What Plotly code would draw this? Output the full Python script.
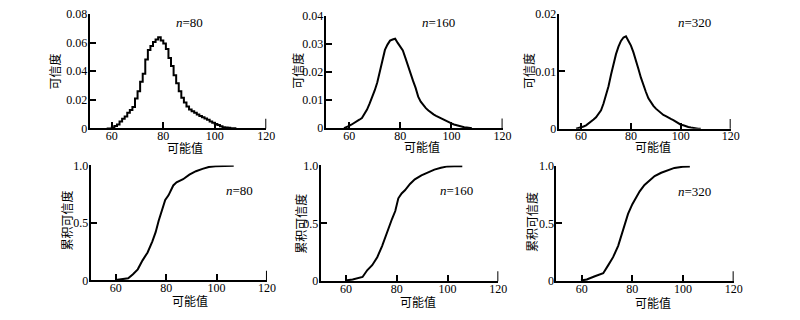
import plotly.graph_objects as go

# ---------------- data ----------------
hist_x = list(range(58, 109))  # possible values 58..108

cred_80 = [0, 0, 0.0007, 0.0017, 0.0027, 0.0049, 0.0067, 0.0084, 0.0109, 0.0129,
           0.0149, 0.0209, 0.026, 0.0327, 0.0382, 0.0482, 0.0549, 0.0577, 0.0604, 0.0622,
           0.0637, 0.0615, 0.0593, 0.0555, 0.0493, 0.0437, 0.0371, 0.0315, 0.026, 0.0215,
           0.0182, 0.0153, 0.0133, 0.012, 0.0109, 0.0097, 0.0087, 0.0078, 0.0069, 0.006,
           0.0049, 0.004, 0.0031, 0.0024, 0.0015, 0.0009, 0.0007, 0.0004, 0.0002, 0.0002, 0]

cred_160 = [0, 0.0003, 0.0008, 0.0013, 0.0018, 0.0024, 0.003, 0.0036, 0.0049, 0.0066,
            0.0087, 0.0108, 0.0134, 0.0162, 0.0202, 0.0245, 0.0278, 0.0297, 0.0311, 0.0315,
            0.0318, 0.0303, 0.0289, 0.0276, 0.0250, 0.0221, 0.0194, 0.0168, 0.0143, 0.0112,
            0.0094, 0.0081, 0.0071, 0.0063, 0.0055, 0.0049, 0.0044, 0.0039, 0.0035, 0.0031,
            0.0026, 0.0021, 0.0017, 0.0013, 0.001, 0.0007, 0.0005, 0.0003, 0.0002, 0.0001, 0]

cred_320 = [0, 0.0001, 0.0002, 0.0004, 0.0006, 0.0009, 0.0012, 0.0016, 0.002, 0.0026,
            0.0032, 0.0044, 0.0058, 0.0074, 0.0094, 0.0113, 0.013, 0.0143, 0.0153, 0.0159,
            0.0161, 0.0153, 0.0145, 0.0133, 0.012, 0.0104, 0.0089, 0.0075, 0.0064, 0.0053,
            0.0046, 0.004, 0.0035, 0.0031, 0.0027, 0.0024, 0.0022, 0.0019, 0.0017, 0.0015,
            0.0012, 0.0009, 0.0007, 0.0006, 0.0004, 0.0003, 0.0002, 0.0001, 0.0001, 0, 0]

cdf80_x = [60, 63.8, 64.9, 66.8, 68.7, 70.6, 72.6, 74.5, 75.8, 77, 78.3, 79.6, 80.9,
           82.8, 84.1, 86.7, 89.2, 91.8, 94.4, 96.9, 99.5, 102.1, 106.8]
cdf80_y = [0.005, 0.017, 0.02, 0.055, 0.097, 0.175, 0.244, 0.34, 0.42, 0.52, 0.62, 0.70, 0.74,
           0.826, 0.853, 0.88, 0.92, 0.95, 0.97, 0.986, 0.994, 0.997, 0.997]

cdf160_x = [59.7, 62.6, 66.5, 68.4, 70.3, 72.3, 74.2, 75.5, 76.8, 78.1, 79.4, 80.6, 81.9,
            83.2, 85.2, 87.1, 89.7, 92.3, 94.8, 97.4, 100, 102.6, 105.8]
cdf160_y = [0.005, 0.014, 0.036, 0.096, 0.138, 0.207, 0.303, 0.386, 0.468, 0.537, 0.606, 0.716,
            0.758, 0.785, 0.84, 0.88, 0.915, 0.942, 0.964, 0.98, 0.992, 0.994, 0.994]

cdf320_x = [59.7, 62, 65.2, 68.5, 70.5, 72.4, 74.4, 75.7, 77, 78.3, 80, 81.6, 82.9, 84.8,
            86.8, 88.8, 91.4, 94, 96.6, 99.9, 102.7]
cdf320_y = [0.005, 0.014, 0.042, 0.069, 0.139, 0.208, 0.306, 0.403, 0.5, 0.583, 0.667, 0.736,
            0.778, 0.833, 0.875, 0.911, 0.939, 0.961, 0.981, 0.992, 0.994]

x_ticks = [60, 80, 100, 120]
top_yticks = [[0, 0.02, 0.04, 0.06, 0.08], [0, 0.01, 0.02, 0.03, 0.04], [0, 0.01, 0.02]]
top_yticktext = [["0", "0.02", "0.04", "0.06", "0.08"], ["0", "0.01", "0.02", "0.03", "0.04"],
                 ["0", "0.01", "0.02"]]
top_yrange = [0.08, 0.04, 0.02]
bot_yticks = [0, 0.5, 1.0]
bot_yticktext = ["0", "0.5", "1.0"]
n_labels = ["80", "160", "320"]
xlabel = "可能值"
ylabel_top = "可信度"
ylabel_bot = "累积可信度"

# ---------------- layout geometry (pixels) ----------------
W, H = 800, 320
top_boxes = [(90.7, 269.3, 7.3, 127.0), (329.3, 508.3, 9.0, 126.7), (565.0, 739.0, 7.3, 127.3)]
bot_boxes = [(91.7, 270.0, 165.7, 286.0), (324.3, 504.0, 165.7, 286.7), (562.7, 742.0, 166.0, 286.7)]
top_xmin = [51.4, 50.8, 51.0]
bot_xmin = [50, 50, 50]

SERIF = "Liberation Serif, Times New Roman, serif"
CJK = "Noto Sans CJK SC"

fig = go.Figure()
line = dict(color="black", width=2)

top_series = [cred_80, cred_160, cred_320]
for i in range(3):
    fig.add_trace(go.Scatter(x=hist_x, y=top_series[i], mode="lines",
                             line=dict(color="black", width=2,
                                       shape="hv" if i == 0 else "linear"),
                             xaxis=f"x{i+1}" if i else "x", yaxis=f"y{i+1}" if i else "y",
                             showlegend=False, hoverinfo="skip"))

cdfs = [(cdf80_x, cdf80_y), (cdf160_x, cdf160_y), (cdf320_x, cdf320_y)]
for i in range(3):
    fig.add_trace(go.Scatter(x=cdfs[i][0], y=cdfs[i][1], mode="lines", line=line,
                             xaxis=f"x{i+4}", yaxis=f"y{i+4}",
                             showlegend=False, hoverinfo="skip"))

axes = {}
annotations = []
shapes = []


def ax_common():
    return dict(showline=True, linecolor="black", linewidth=2, ticks="inside", ticklen=6,
                tickwidth=1.5, tickcolor="black", showgrid=False, zeroline=False,
                tickfont=dict(family=SERIF, size=12, color="black"), fixedrange=True)


for i in range(6):
    top = i < 3
    j = i % 3
    box = top_boxes[j] if top else bot_boxes[j]
    x0, x1, yt, yb = box
    xname = "xaxis" if i == 0 else f"xaxis{i+1}"
    yname = "yaxis" if i == 0 else f"yaxis{i+1}"
    xid = "x" if i == 0 else f"x{i+1}"
    yid = "y" if i == 0 else f"y{i+1}"
    xa = ax_common()
    xa.update(domain=[x0 / W, x1 / W], range=[top_xmin[j] if top else bot_xmin[j], 120],
              tickvals=x_ticks, ticktext=[str(v) for v in x_ticks], anchor=yid,
              ticklabelstandoff=-5)
    ya = ax_common()
    if top:
        ya.update(range=[0, top_yrange[j]], tickvals=top_yticks[j], ticktext=top_yticktext[j])
    else:
        ya.update(range=[0, 1.0], tickvals=bot_yticks, ticktext=bot_yticktext)
    ya.update(domain=[1 - yb / H, 1 - yt / H], anchor=xid, ticklabelstandoff=-2)
    axes[xname] = xa
    axes[yname] = ya
    # taller end tick at x = 120
    shapes.append(dict(type="line", xref=xid, yref=f"{yid} domain", x0=120, x1=120,
                       y0=0, y1=0.085, line=dict(color="black", width=2)))

# n labels
n_pos = [(191.7, 16), (443, 16.7), (702.5, 16.7), (242, 192.3), (462, 192), (702, 192.7)]
for k, (px, py) in enumerate(n_pos):
    annotations.append(dict(text=f"<i>n</i>={n_labels[k % 3]}", x=px / W, y=1 - py / H,
                            xref="paper", yref="paper", showarrow=False, xanchor="center",
                            yanchor="middle", font=dict(family=SERIF, size=13, color="black")))

# x titles
xt_pos = [(187, 146.5), (427, 146), (660, 146), (192, 307), (423, 307.5), (660, 309)]
for px, py in xt_pos:
    annotations.append(dict(text=xlabel, x=px / W, y=1 - py / H, xref="paper", yref="paper",
                            showarrow=False, xanchor="center", yanchor="middle",
                            font=dict(family=CJK, size=12, color="black")))

# y titles
yt_pos = [(55, 67, ylabel_top), (300, 67, ylabel_top), (534, 67, ylabel_top),
          (67, 223, ylabel_bot), (303, 227, ylabel_bot), (537, 225, ylabel_bot)]
for px, py, t in yt_pos:
    annotations.append(dict(text=t, x=px / W, y=1 - py / H, xref="paper", yref="paper",
                            showarrow=False, xanchor="center", yanchor="middle", textangle=-90,
                            font=dict(family=CJK, size=12, color="black")))

fig.update_layout(width=W, height=H, margin=dict(l=0, r=0, t=0, b=0),
                  paper_bgcolor="white", plot_bgcolor="white",
                  annotations=annotations, shapes=shapes, **axes)

fig.write_html("out.html", config={"displayModeBar": False},
               post_script="document.body.style.margin='0px';")
